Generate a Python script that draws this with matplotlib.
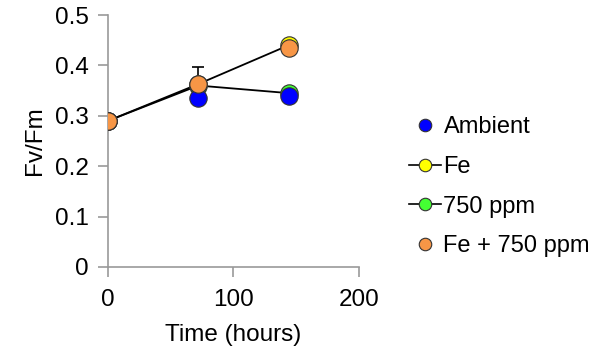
import matplotlib.pyplot as plt
from matplotlib.lines import Line2D

plt.rcParams['font.family'] = ['Liberation Sans', 'DejaVu Sans']

# data
hours = [0, 72, 144]
ambient = [0.290, 0.336, 0.340]
fe = [0.290, 0.363, 0.440]
ppm750 = [0.290, 0.360, 0.345]
fe_ppm750 = [0.290, 0.363, 0.434]
fe_err = [0.0, 0.033, 0.0]

labels = ['Ambient', 'Fe', '750 ppm', 'Fe + 750 ppm']
colors = ['#0000ff', '#ffff00', '#44ff33', '#f79646']

fig = plt.figure(figsize=(6.12, 3.49), dpi=100)
ax = fig.add_axes([0.1765, 0.235, 0.41, 0.722])

ms = 12.5
ax.errorbar(hours, fe, yerr=fe_err, fmt='none', ecolor='black', elinewidth=1.2,
            capsize=4, capthick=1.2, zorder=2)
ax.plot(hours, fe, '-', color='black', lw=1.3, zorder=2)
ax.plot(hours, ppm750, '-', color='black', lw=1.3, zorder=2)
ax.plot(hours, ppm750, 'o', ms=ms, mfc=colors[2], mec='#333333', mew=0.8, zorder=3)
ax.plot(hours, fe, 'o', ms=ms, mfc=colors[1], mec='#333333', mew=0.8, zorder=3)
ax.plot(hours, ambient, 'o', ms=ms, mfc=colors[0], mec='#333333', mew=0.8, zorder=4)
ax.plot(hours, fe_ppm750, 'o', ms=ms, mfc=colors[3], mec='#333333', mew=0.8, zorder=5)

ax.set_xlim(0, 200)
ax.set_ylim(0, 0.5)
ax.set_xticks([0, 100, 200])
ax.set_yticks([0, 0.1, 0.2, 0.3, 0.4, 0.5])
ax.set_yticklabels(['0', '0.1', '0.2', '0.3', '0.4', '0.5'])
for s in ['top', 'right']:
    ax.spines[s].set_visible(False)
for s in ['left', 'bottom']:
    ax.spines[s].set_color('#999999')
    ax.spines[s].set_linewidth(1.2)
ax.tick_params(colors='#999999', labelcolor='black', labelsize=17.5, length=7, width=1.2)
ax.tick_params(axis='x', pad=9)
ax.tick_params(axis='y', pad=7)
ax.set_xlabel('Time (hours)', fontsize=17.5, labelpad=9)
ax.set_ylabel('Fv/Fm', fontsize=17.5, labelpad=6)

handles = [
    Line2D([], [], ls='none', marker='o', ms=9, mfc=colors[0], mec='#333333', mew=0.8),
    Line2D([], [], ls='-', color='black', lw=1.2, marker='o', ms=9, mfc=colors[1], mec='#333333', mew=0.8),
    Line2D([], [], ls='-', color='black', lw=1.2, marker='o', ms=9, mfc=colors[2], mec='#333333', mew=0.8),
    Line2D([], [], ls='none', marker='o', ms=9, mfc=colors[3], mec='#333333', mew=0.8),
]
fig.legend(handles, labels, loc='center left', bbox_to_anchor=(0.634, 0.465),
           frameon=False, fontsize=17, handlelength=1.35, handletextpad=0.1,
           labelspacing=0.75)

fig.savefig('out.png', dpi=100)
